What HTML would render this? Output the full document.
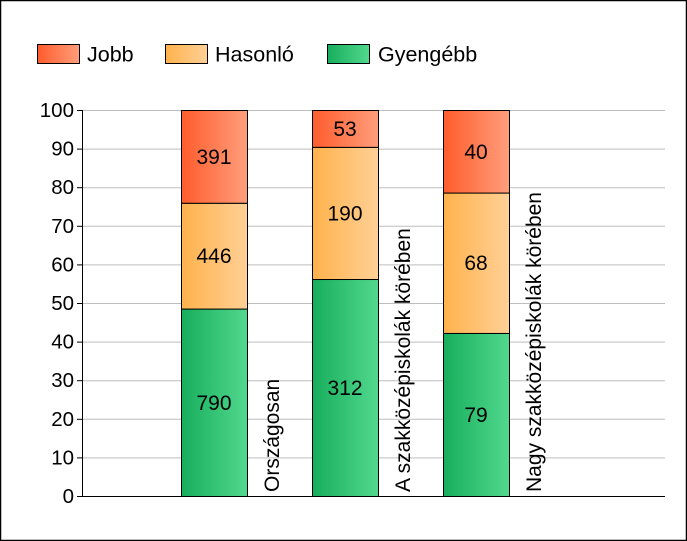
<!DOCTYPE html>
<html><head><meta charset="utf-8"><style>
body{margin:0;background:#fff}
svg{display:block;font-family:"Liberation Sans",Arial,sans-serif}
</style></head><body>
<svg id="c" width="687" height="541" viewBox="0 0 687 541">
<defs>
<linearGradient id="gR" x1="0" x2="1" y1="0" y2="0"><stop offset="0" stop-color="#ff5c2c"/><stop offset="1" stop-color="#ff9e7c"/></linearGradient>
<linearGradient id="gO" x1="0" x2="1" y1="0" y2="0"><stop offset="0" stop-color="#ffb24c"/><stop offset="1" stop-color="#ffd096"/></linearGradient>
<linearGradient id="gG" x1="0" x2="1" y1="0" y2="0"><stop offset="0" stop-color="#17ae5c"/><stop offset="1" stop-color="#52d88e"/></linearGradient>
</defs>
<rect x="0.5" y="0.5" width="686" height="540" fill="#fff" stroke="#000" stroke-width="1.5"/>
<g id="legend"></g>
<g id="grid"></g>
<g id="bars"></g>
<g id="axes"></g>
</svg>
<script>
const categories=["Országosan","A szakközépiskolák körében","Nagy szakközépiskolák körében"];
const gyengebb=[790,312,79];
const hasonlo=[446,190,68];
const jobb=[391,53,40];
const yTicks=[0,10,20,30,40,50,60,70,80,90,100];
const seriesNames=["Jobb","Hasonló","Gyengébb"];
const NS="http://www.w3.org/2000/svg";
const X0=82,X1=665,Y0=496,Y1=110;
const y=v=>Y0-(v/100)*(Y0-Y1);
const bandX=i=>181+i*131;
const BW=66;
function mk(tag,attrs,parent,txt){const e=document.createElementNS(NS,tag);for(const k in attrs)e.setAttribute(k,attrs[k]);if(txt!==undefined)e.textContent=txt;parent.appendChild(e);return e;}
const grid=document.getElementById('grid'),axes=document.getElementById('axes'),bars=document.getElementById('bars'),legend=document.getElementById('legend');
yTicks.forEach(t=>{
  const l=mk('line',{x1:X0,x2:X1,y1:y(t)+.5,y2:y(t)+.5,stroke:'#bdbdbd','stroke-width':1},grid);
  
  
  const tk=mk('line',{x1:X0-5,x2:X0,y1:y(t)+.5,y2:y(t)+.5,stroke:'#000'},axes);
  
  
  const tx=mk('text',{x:X0-8,y:y(t)+7,'text-anchor':'end','font-size':20.5},axes,t);
  
  
});
const ya=mk('line',{x1:X0+.5,x2:X0+.5,y1:Y1,y2:Y0,stroke:'#000'},axes);


const xa=mk('line',{x1:X0,x2:X1,y1:Y0+.5,y2:Y0+.5,stroke:'#000'},axes);


categories.forEach((c,i)=>{
  const tot=gyengebb[i]+hasonlo[i]+jobb[i];
  const segs=[[gyengebb[i],'url(#gG)','gyengebb'],[hasonlo[i],'url(#gO)','hasonlo'],[jobb[i],'url(#gR)','jobb']];
  let acc=0;const x=bandX(i);
  segs.forEach(s=>{
    const p0=acc/tot*100,p1=(acc+s[0])/tot*100;acc+=s[0];
    const r=mk('rect',{x:x+.5,y:y(p1)+.5,width:BW,height:y(p0)-y(p1),fill:s[1],stroke:'#000','stroke-width':1},bars);
    
    
    const t=mk('text',{x:x+BW/2,y:(y(p0)+y(p1))/2+7.5,'text-anchor':'middle','font-size':21},bars,s[0]);
    
    
  });
  const lx=x+BW+32;
  const lab=mk('text',{x:lx,y:Y0-4,'font-size':21,transform:`rotate(-90 ${lx} ${Y0-4})`},axes,c);
  
  
});
const lg=[[37,87,'url(#gR)'],[165,215,'url(#gO)'],[327,378,'url(#gG)']];
seriesNames.forEach((n,i)=>{
  const b=mk('rect',{x:lg[i][0]+.5,y:44.5,width:42,height:19,fill:lg[i][2],stroke:'#000'},legend);
  
  
  const t=mk('text',{x:lg[i][1],y:61.5,'font-size':21.5},legend,n);
  
  
});
</script>
</body></html>
